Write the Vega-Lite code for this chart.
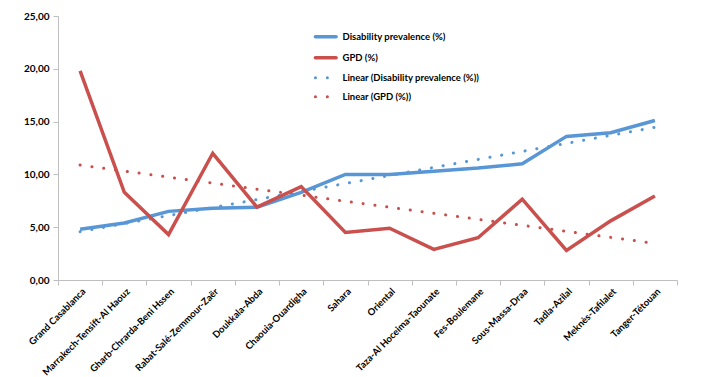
{
  "$schema": "https://vega.github.io/schema/vega-lite/v6.json",
  "width": 619,
  "height": 264,
  "autosize": "none",
  "padding": {"left": 58, "top": 16, "right": 40, "bottom": 97},
  "background": "white",
  "config": {
    "locale": {"number": {"decimal": ",", "thousands": ".", "grouping": [3], "currency": ["", " €"]}},
    "view": {"stroke": null},
    "font": "Lato",
    "axis": {"labelFont": "Lato", "labelFontWeight": "bold", "labelFontSize": 9.5, "labelColor": "#000000", "domainColor": "#BFBFBF", "tickColor": "#BFBFBF", "grid": false}
  },
  "data": {"values": [
    {"region": "Grand Casablanca", "Disability prevalence (%)": 4.8, "GPD (%)": 19.8},
    {"region": "Marrakech-Tensift-Al Haouz", "Disability prevalence (%)": 5.4, "GPD (%)": 8.3},
    {"region": "Gharb-Chrarda-Beni Hssen", "Disability prevalence (%)": 6.5, "GPD (%)": 4.3},
    {"region": "Rabat-Salé-Zemmour-Zaër", "Disability prevalence (%)": 6.8, "GPD (%)": 12.0},
    {"region": "Doukkala-Abda", "Disability prevalence (%)": 6.9, "GPD (%)": 6.9},
    {"region": "Chaouia-Ouardigha", "Disability prevalence (%)": 8.3, "GPD (%)": 8.85},
    {"region": "Sahara", "Disability prevalence (%)": 10.0, "GPD (%)": 4.5},
    {"region": "Oriental", "Disability prevalence (%)": 10.0, "GPD (%)": 4.9},
    {"region": "Taza-Al Hoceima-Taounate", "Disability prevalence (%)": 10.3, "GPD (%)": 2.9},
    {"region": "Fes-Boulemane", "Disability prevalence (%)": 10.6, "GPD (%)": 4.0},
    {"region": "Sous-Massa-Draa", "Disability prevalence (%)": 11.0, "GPD (%)": 7.65},
    {"region": "Tadla-Azilal", "Disability prevalence (%)": 13.6, "GPD (%)": 2.8},
    {"region": "Meknès-Tafilalet", "Disability prevalence (%)": 13.95, "GPD (%)": 5.6},
    {"region": "Tanger-Tétouan", "Disability prevalence (%)": 15.1, "GPD (%)": 7.95}
  ]},
  "layer": [
    {
      "transform": [
        {"window": [{"op": "row_number", "as": "row"}]},
        {"regression": "Disability prevalence (%)", "on": "row"}
      ],
      "mark": {"type": "line", "strokeWidth": 3, "strokeCap": "round", "strokeDash": [0.1, 11.8]},
      "encoding": {
        "x": {"field": "row", "type": "quantitative", "scale": {"domain": [0.5, 14.5], "nice": false, "zero": false},
              "axis": {"orient": "bottom", "values": [0.5,1.5,2.5,3.5,4.5,5.5,6.5,7.5,8.5,9.5,10.5,11.5,12.5,13.5,14.5], "labels": false, "ticks": true, "tickSize": 5, "domain": true, "title": null}},
        "y": {"field": "Disability prevalence (%)", "type": "quantitative"},
        "color": {
          "datum": "Linear (Disability prevalence (%))",
          "scale": {
            "domain": ["Disability prevalence (%)", "GPD (%)", "Linear (Disability prevalence (%))", "Linear (GPD (%))"],
            "range": ["#5896D6", "#C9504D", "#5896D6", "#C9504D"]
          },
          "legend": {
            "title": null, "orient": "none", "legendX": 263, "legendY": 16,
            "symbolType": "stroke", "symbolSize": 430, "symbolStrokeWidth": 3.5,
            "labelFont": "Lato", "labelFontWeight": "bold", "labelFontSize": 9.5, "labelColor": "#000000",
            "rowPadding": 6, "labelOffset": 12,
            "encode": {"symbols": {"update": {
              "strokeDash": {"signal": "datum.index >= 2 ? [0.1, 11.8] : [1, 0]"},
              "strokeWidth": {"signal": "datum.index >= 2 ? 3 : 3.5"},
              "strokeCap": {"value": "round"}
            }}}
          }
        }
      }
    },
    {
      "transform": [
        {"window": [{"op": "row_number", "as": "row"}]},
        {"regression": "GPD (%)", "on": "row"}
      ],
      "mark": {"type": "line", "strokeWidth": 3, "strokeCap": "round", "strokeDash": [0.1, 11.8]},
      "encoding": {
        "x": {"field": "row", "type": "quantitative", "scale": {"domain": [0.5, 14.5], "nice": false, "zero": false}, "axis": null},
        "y": {"field": "GPD (%)", "type": "quantitative"},
        "color": {"datum": "Linear (GPD (%))"}
      }
    },
    {
      "layer": [
        {
          "mark": {"type": "line", "strokeWidth": 3.5},
          "encoding": {
            "y": {"field": "Disability prevalence (%)", "type": "quantitative"},
            "color": {"datum": "Disability prevalence (%)"}
          }
        },
        {
          "mark": {"type": "line", "strokeWidth": 3.5},
          "encoding": {
            "y": {"field": "GPD (%)", "type": "quantitative"},
            "color": {"datum": "GPD (%)"}
          }
        }
      ],
      "encoding": {
        "x": {"field": "region", "type": "ordinal", "sort": null, "scale": {"type": "point", "padding": 0.5},
              "axis": {"orient": "bottom", "labelAngle": -45, "ticks": false, "domain": false, "title": null, "labelPadding": 6}}
      }
    }
  ],
  "encoding": {
    "y": {"type": "quantitative", "scale": {"domain": [0, 25], "nice": false},
          "axis": {"title": null, "values": [0,5,10,15,20,25], "format": ".2f", "tickSize": 5, "labelPadding": 4, "labelFontSize": 10}}
  },
  "resolve": {"scale": {"x": "independent"}, "axis": {"x": "independent"}}
}
